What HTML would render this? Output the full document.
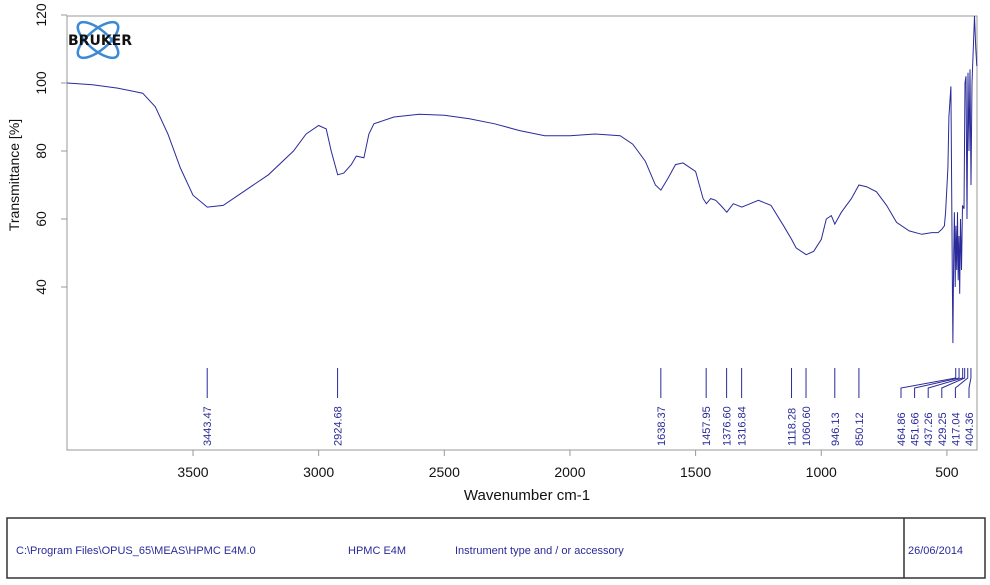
<!DOCTYPE html>
<html><head><meta charset="utf-8"><style>
body{margin:0;background:#fff;width:990px;height:585px;overflow:hidden;font-family:"Liberation Sans",sans-serif}
svg{position:absolute;left:0;top:0}
</style></head><body>
<svg width="990" height="585">
<g id="axes"></g>
<path id="spectrum" fill="none" stroke="#2a2a9a" stroke-width="1"/>
<g id="peaks"></g>
<g>
<ellipse cx="98" cy="40" rx="25" ry="10" fill="none" stroke="#3a8ad6" stroke-width="2.5" transform="rotate(40 98 40)"/>
<ellipse cx="98" cy="40" rx="25" ry="10" fill="none" stroke="#3a8ad6" stroke-width="2.5" transform="rotate(-40 98 40)"/>
<text x="68" y="45" font-size="14" font-weight="bold" fill="#111" font-family="DejaVu Sans, sans-serif">BRUKER</text>
</g>
<text x="527" y="500" font-size="15" text-anchor="middle" fill="#111">Wavenumber cm-1</text>
<text transform="translate(19,175) rotate(-90)" font-size="14" text-anchor="middle" fill="#111">Transmittance [%]</text>
<rect x="7" y="518" width="978" height="60" fill="none" stroke="#333" stroke-width="1.5"/>
<line x1="904" y1="518" x2="904" y2="578" stroke="#333" stroke-width="1.5"/>
<g font-size="11" fill="#2a2a9a">
<text x="16" y="554">C:\Program Files\OPUS_65\MEAS\HPMC E4M.0</text>
<text x="348" y="554">HPMC E4M</text>
<text x="455" y="554">Instrument type and / or accessory</text>
<text x="908" y="554">26/06/2014</text>
</g>
</svg>
<script>
const waves=[4000,3900,3800,3700,3650,3600,3550,3500,3443,3380,3300,3200,3100,3050,3000,2970,2950,2924,2900,2870,2850,2820,2800,2780,2700,2600,2500,2400,2300,2200,2100,2000,1900,1800,1750,1700,1660,1638,1610,1580,1550,1500,1470,1457,1440,1420,1400,1376,1350,1316,1300,1250,1200,1150,1118,1100,1060,1030,1000,980,960,946,920,880,850,820,780,740,700,650,600,560,535,520,510,505,496,492,484,478,476,473,470,467,464,461,458,455,452,449,446,442,438,432,428,424,420,416,412,408,404,400,390,385,381];
const trans=[100,99.5,98.5,97,93,85,75,67,63.5,64,68,73,80,85,87.5,86.5,80,73,73.5,76,78.5,78,85,88,90,90.8,90.5,89.5,88,86,84.5,84.5,85,84.5,82,77,70,68.5,72,76,76.5,74,66,64.5,66,65.5,64,62,64.5,63.5,64,65.5,64,58,54,51.5,49.5,50.5,54,60,61,58.5,62,66,70,69.5,68,64,59,56.5,55.5,56,56,57,58,62,75,90,99,40,23.5,50,62,40,58,45,62,42,55,38,60,45,64,63,100,102,60,103,80,104,70,100,120,110,105];
const yTicks=[120,100,80,60,40];
const xTicks=[3500,3000,2500,2000,1500,1000,500];
const peakWaves=[3443.47,2924.68,1638.37,1457.95,1376.60,1316.84,1118.28,1060.60,946.13,850.12,464.86,451.66,437.26,429.25,417.04,404.36];
const peakLabels=["3443.47","2924.68","1638.37","1457.95","1376.60","1316.84","1118.28","1060.60","946.13","850.12","464.86","451.66","437.26","429.25","417.04","404.36"];
const L=67,R=977,T=16,B=450;
const X=w=>193+(3500-w)*0.2513;
const Y=v=>83+(100-v)*3.4;
const NS="http://www.w3.org/2000/svg";
function mk(tag,attrs,parent,txt){const e=document.createElementNS(NS,tag);for(const k in attrs)e.setAttribute(k,attrs[k]);if(txt!==undefined)e.textContent=txt;parent.appendChild(e);return e;}
const ax=document.getElementById('axes');
const frame=mk('rect',{x:L,y:T,width:R-L,height:B-T,fill:'none',stroke:'#999','stroke-width':1},ax);


yTicks.forEach(v=>{
 mk('line',{x1:L-6,x2:L,y1:Y(v),y2:Y(v),stroke:'#999'},ax);
 const t=mk('text',{transform:`translate(46,${Y(v)}) rotate(-90)`,'font-size':14,'text-anchor':'middle',fill:'#111'},ax,String(v));
 
 
});
xTicks.forEach(w=>{
 mk('line',{x1:X(w),x2:X(w),y1:B,y2:B+6,stroke:'#999'},ax);
 const t=mk('text',{x:X(w),y:B+27,'font-size':14,'text-anchor':'middle',fill:'#111'},ax,String(w));
 
 
});
let d='';
waves.forEach((w,i)=>{d+=(i?'L':'M')+Math.min(R,X(w)).toFixed(1)+','+Math.max(T,Y(trans[i])).toFixed(1);});
document.getElementById('spectrum').setAttribute('d',d);
const pk=document.getElementById('peaks');
let gi=0;
peakWaves.forEach((w,i)=>{
 const g=mk('g',{},pk);
 
 
 const x=X(w);let lx=x;
 if(w<500){lx=901+gi*13.6;gi++;
  mk('polyline',{points:`${x},368 ${x},378 ${lx},388 ${lx},398`,fill:'none',stroke:'#2a2a9a','stroke-width':1},g);
 } else mk('line',{x1:x,x2:x,y1:368,y2:398,stroke:'#2a2a9a','stroke-width':1},g);
 mk('text',{transform:`translate(${lx+4},446) rotate(-90)`,'font-size':11,fill:'#2a2a9a'},g,peakLabels[i]);
});
</script>
</body></html>
